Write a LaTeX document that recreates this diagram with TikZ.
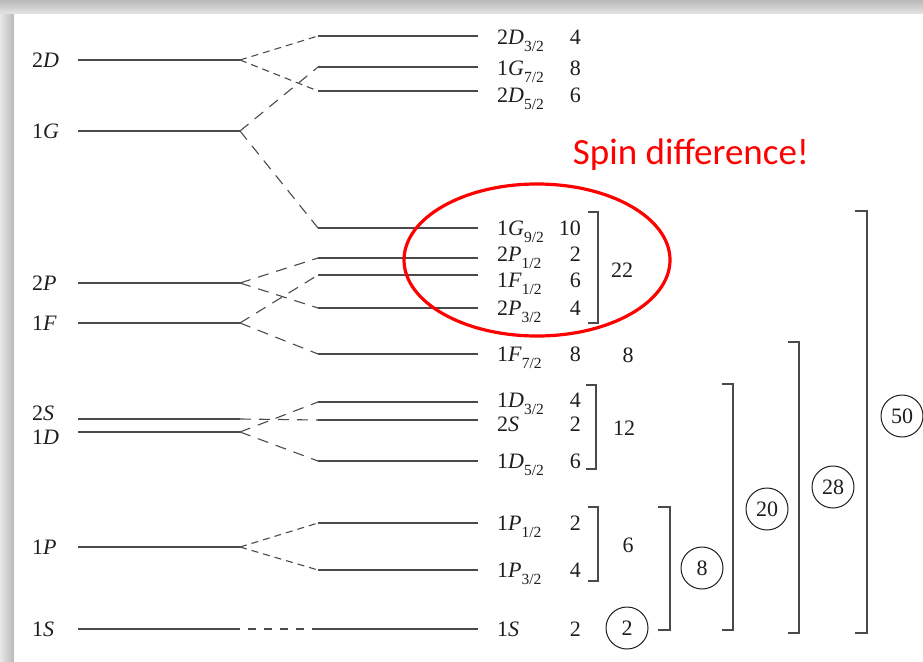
\documentclass[tikz,border=0pt]{standalone}
\usepackage{fontspec}
\setmainfont{Liberation Serif}
\newfontfamily\calib{Carlito}
\newcommand{\sbs}[1]{\raisebox{-0.33em}{\fontsize{15.5}{16}\selectfont #1}}
\definecolor{lvcol}{HTML}{4A4A4A}
\definecolor{txcol}{HTML}{1E1E1E}
\tikzset{
  lev/.style={draw=lvcol, line width=1.2pt},
  dshs/.style={draw=lvcol, line width=1.1pt, dash pattern=on 7pt off 5pt},
  dshl/.style={draw=lvcol, line width=1.1pt, dash pattern=on 11pt off 8pt},
  dshd/.style={draw=lvcol, line width=1.1pt, dash pattern=on 8pt off 8pt, dash phase=8pt},
  lab/.style={anchor=base west, inner sep=0pt, text=txcol, font=\fontsize{22}{25}\selectfont},
  num/.style={anchor=base east, inner sep=0pt, text=txcol, font=\fontsize{22}{25}\selectfont},
  grp/.style={anchor=center, inner sep=0pt, text=txcol, font=\fontsize{22}{25}\selectfont},
  circ/.style={circle, draw=txcol, line width=1pt, minimum size=42pt, inner sep=0pt, text=txcol, font=\fontsize{22}{25}\selectfont},
  brk/.style={draw=lvcol, line width=1.2pt}
}
\begin{document}
\begin{tikzpicture}[x=1pt,y=-1pt]
\useasboundingbox (0,0) rectangle (923,661);
% window frame shadow
\fill[gray!35] (0,0) rectangle (923,661);
\shade[left color=gray!18, right color=gray!55] (0,0) rectangle (14,661);
\shade[top color=gray!55, bottom color=gray!20] (0,0) rectangle (923,14);
\fill[white] (14,14) rectangle (923,661);

% left levels: name / y / label / label y
\foreach \n/\y/\t/\ly in {L2D/60/{2\textit{D}}/60, L1G/131/{1\textit{G}}/131,
  L2P/283/{2\textit{P}}/283, L1F/323/{1\textit{F}}/323, L2S/419/{2\textit{S}}/413,
  L1D/432/{1\textit{D}}/437, L1P/547/{1\textit{P}}/547, L1S/629/{1\textit{S}}/629}{
  \coordinate (\n a) at (78,\y);
  \coordinate (\n b) at (240,\y);
  \draw[lev] (\n a) -- (\n b);
  \node[lab] (\n l) at (32,\ly+7.3) {\t};
}

% right levels: name / y / label y / label / degeneracy
\foreach \n/\y/\ly/\t/\d in {
  R2Dt/36/37/{2\textit{D}\sbs{3/2}}/4,
  R1Gs/67/68/{1\textit{G}\sbs{7/2}}/8,
  R2Df/91/95/{2\textit{D}\sbs{5/2}}/6,
  R1Gn/228/228/{1\textit{G}\sbs{9/2}}/10,
  R2Po/258/254/{2\textit{P}\sbs{1/2}}/2,
  R1Fo/275/280/{1\textit{F}\sbs{1/2}}/6,
  R2Pt/308/308/{2\textit{P}\sbs{3/2}}/4,
  R1Fs/354/354/{1\textit{F}\sbs{7/2}}/8,
  R1Dt/402/400/{1\textit{D}\sbs{3/2}}/4,
  R2S/420/424/{2\textit{S}}/2,
  R1Df/461/461/{1\textit{D}\sbs{5/2}}/6,
  R1Po/523/523/{1\textit{P}\sbs{1/2}}/2,
  R1Pt/570/570/{1\textit{P}\sbs{3/2}}/4,
  R1S/629/629/{1\textit{S}}/2}{
  \coordinate (\n a) at (318,\y);
  \coordinate (\n b) at (478,\y);
  \draw[lev] (\n a) -- (\n b);
  \node[lab] (\n l) at (497,\ly+7.3) {\t};
  \node[num] (\n d) at (581,\ly+7.3) {\d};
}

% splitting connectors
\draw[dshs] (L2Db) -- (R2Dta);
\draw[dshs] (L2Db) -- (R2Dfa);
\draw[dshl] (L1Gb) -- (R1Gsa);
\draw[dshl] (L1Gb) -- (R1Gna);
\draw[dshl] (L2Pb) -- (R2Poa);
\draw[dshl] (L2Pb) -- (R2Pta);
\draw[dshl] (L1Fb) -- (R1Foa);
\draw[dshl] (L1Fb) -- (R1Fsa);
\draw[dshl] (L2Sb) -- (R2Sa);
\draw[dshl] (L1Db) -- (R1Dta);
\draw[dshl] (L1Db) -- (R1Dfa);
\draw[dshs] (L1Pb) -- (R1Poa);
\draw[dshs] (L1Pb) -- (R1Pta);
\draw[dshd] (L1Sb) -- (R1Sa);

% shell brackets
\draw[brk] (588,212) -- (598,212) -- (598,323) -- (588,323);
\node[grp] (g22) at (622,270) {22};
\node[grp] (g8) at (628,355) {8};
\draw[brk] (586,385) -- (596,385) -- (596,469) -- (586,469);
\node[grp] (g12) at (624,428) {12};
\draw[brk] (588,507) -- (598,507) -- (598,581) -- (588,581);
\node[grp] (g6) at (628,545) {6};

% magic-number brackets
\draw[brk] (658,507) -- (670,507) -- (670,630) -- (658,630);
\draw[brk] (722,384) -- (733,384) -- (733,630) -- (722,630);
\draw[brk] (788,342) -- (799,342) -- (799,633) -- (788,633);
\draw[brk] (855,211) -- (867,211) -- (867,633) -- (855,633);
\node[circ] (c2) at (627,628) {2};
\node[circ] (c8) at (702,568) {8};
\node[circ] (c20) at (767,509) {20};
\node[circ] (c28) at (833,487) {28};
\node[circ] (c50) at (902,416) {50};

% annotation
\draw[red, line width=3.2pt] (537,260) ellipse [x radius=133, y radius=76];
\node[text=red, inner sep=0pt, font=\calib\fontsize{37}{43}\selectfont] (spin) at (691,155) {Spin difference!};
\end{tikzpicture}
\end{document}
